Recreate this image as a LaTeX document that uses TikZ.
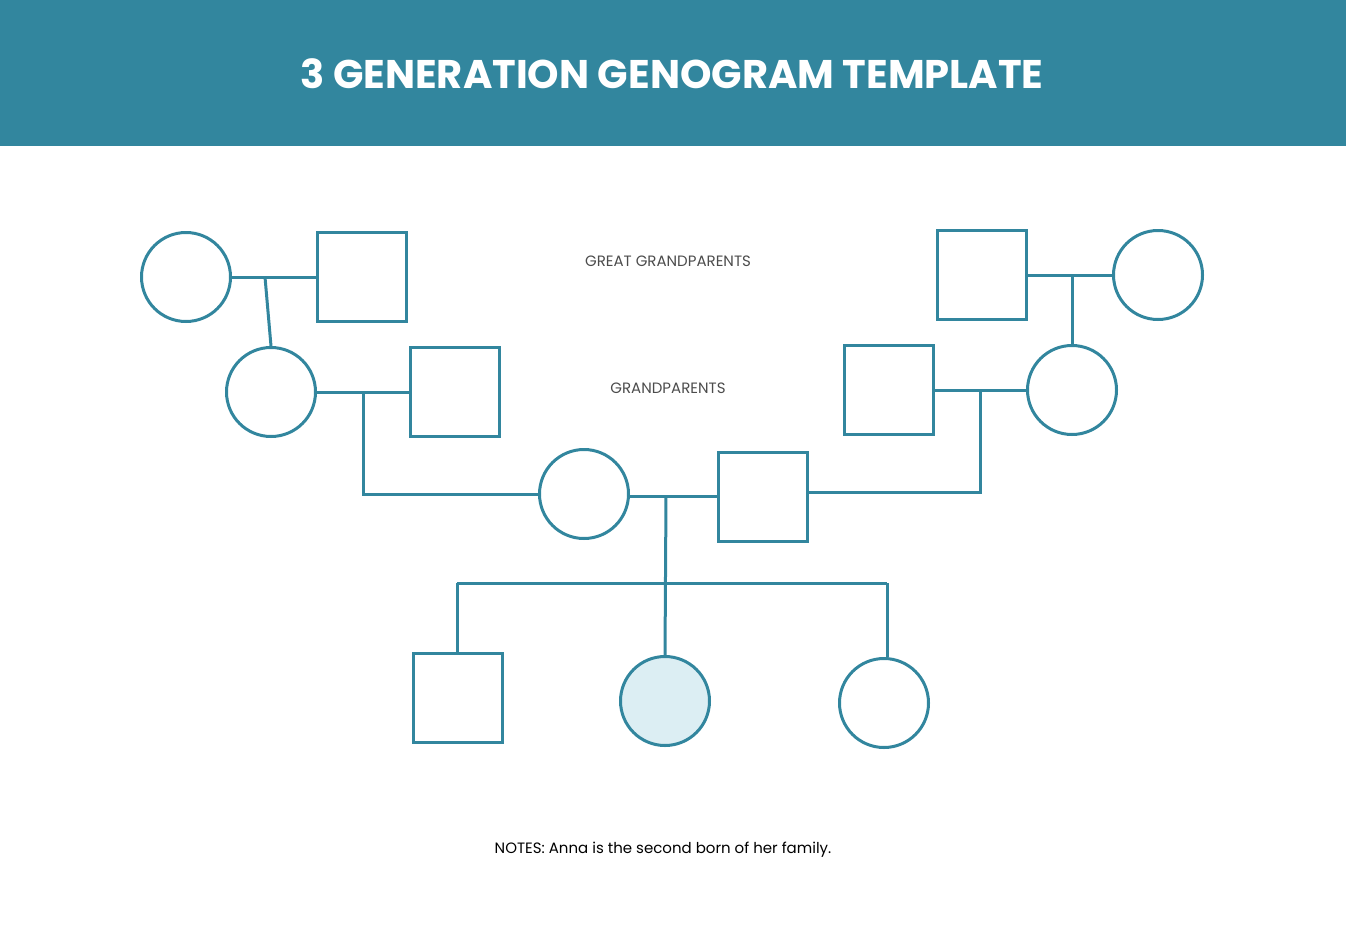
\documentclass[tikz,border=0pt]{standalone}
\usepackage{fontspec}
\setmainfont{Poppins}
\begin{document}
\begin{tikzpicture}[x=1pt,y=-1pt,
  teal/.style={draw=tl,line width=3pt},
  sq/.style={teal,rectangle,minimum size=89pt,inner sep=0pt},
  ci/.style={teal,circle,minimum size=89pt,inner sep=0pt},
  ln/.style={draw=tl,line width=3pt},
  lbl/.style={text=black!70,font=\fontsize{15}{18}\selectfont}]
\definecolor{tl}{HTML}{32869E}
\definecolor{hd}{HTML}{32869E}
\definecolor{an}{HTML}{DCEEF3}
\useasboundingbox (0,0) rectangle (1346,945);
\fill[hd] (0,0) rectangle (1346,146);
\node[text=white,font=\bfseries\fontsize{40}{48}\selectfont] (title) at (672,74) {3 GENERATION GENOGRAM TEMPLATE};
% great grandparents
\node[ci] (ggl1) at (186,277) {};
\node[sq] (ggl2) at (361.5,277) {};
\node[sq] (ggr1) at (982,275) {};
\node[ci] (ggr2) at (1158,275) {};
% grandparents
\node[ci] (gl1) at (271,392) {};
\node[sq] (gl2) at (455,392) {};
\node[sq] (gr1) at (888.5,390) {};
\node[ci] (gr2) at (1072,390) {};
% parents
\node[ci] (p1) at (584,494) {};
\node[sq] (p2) at (763,497) {};
% children
\node[sq] (c1) at (457.5,698) {};
\node[ci,fill=an] (anna) at (665,701) {};
\node[ci] (c3) at (884,703) {};
% coordinates
\coordinate (j1) at (265,277);
\coordinate (j2) at (1072,275);
\coordinate (j3) at (363,392);
\coordinate (j3b) at (363,494);
\coordinate (j4) at (980,390);
\coordinate (j4b) at (980,492);
\coordinate (j5) at (666,496);
\coordinate (j6) at (666,583);
\coordinate (k1) at (457,583);
\coordinate (k3) at (887,583);
% lines
\draw[ln] (ggl1.east) -- (ggl2.west);
\draw[ln] (j1) -- (gl1.north);
\draw[ln] (ggr1.east) -- (ggr2.west);
\draw[ln] (j2) -- (gr2.north);
\draw[ln] (gl1.east) -- (gl2.west);
\draw[ln] (j3) -- (j3b) -- (p1.west);
\draw[ln] (gr1.east) -- (gr2.west);
\draw[ln] (j4) -- (j4b) -- (p2.east|-j4b);
\draw[ln] (p1.east|-j5) -- (p2.west|-j5);
\draw[ln] (j5) -- (anna.north);
\draw[ln] (k1) -- (k3);
\draw[ln] (k1) -- (c1.north-|k1);
\draw[ln] (k3) -- (c3.north-|k3);
% labels
\node[lbl] (l1) at (668,261) {GREAT GRANDPARENTS};
\node[lbl] (l2) at (668,388) {GRANDPARENTS};
\node[font=\fontsize{15}{18}\selectfont] (notes) at (663,850) {NOTES: Anna is the second born of her family.};
\end{tikzpicture}
\end{document}
